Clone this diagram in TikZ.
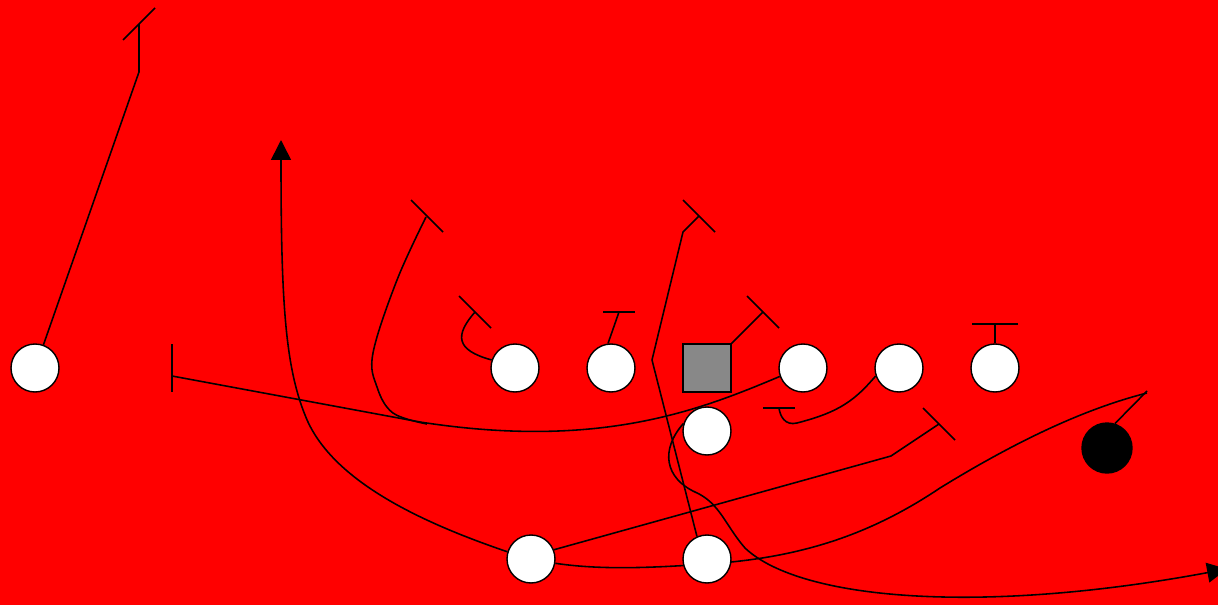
\documentclass[tikz,border=0pt]{standalone}
\usetikzlibrary{arrows.meta,backgrounds}
\definecolor{cgray}{RGB}{136,136,136}
\definecolor{field}{RGB}{255,0,0}
\begin{document}
\begin{tikzpicture}[x=0.02cm,y=-0.02cm,
  player/.style={circle,draw,fill=white,minimum size=0.96cm,inner sep=0pt,line width=0.8pt},
  centerbox/.style={rectangle,draw,fill=cgray,minimum size=0.96cm,inner sep=0pt,line width=0.8pt},
  route/.style={draw,line width=0.9pt,line join=miter},
  tip/.style={-{Triangle[width=11.3pt,length=11.3pt]}}]
\useasboundingbox (0,0) rectangle (1218,605);
% players
\node[player] (wr) at (35,368) {};
\node[player] (l1) at (515,368) {};
\node[player] (l2) at (611,368) {};
\node[centerbox] (c) at (707,368) {};
\node[player] (r1) at (803,368) {};
\node[player] (r2) at (899,368) {};
\node[player] (r3) at (995,368) {};
\node[player] (qb) at (707,431) {};
\node[player] (rbl) at (531,559) {};
\node[player] (rbr) at (707,559) {};
\node[player,fill=black,minimum size=1cm] (d) at (1107,448) {};
\begin{pgfonlayer}{background}
\clip (0,0) rectangle (1218,605);
\fill[field] (0,0) rectangle (1218,605);
% left receiver
\draw[route] (wr.70) -- (139,72) -- (139,24);
\draw[route] (123,40) -- (155,8);
% wheel route with arrow
\draw[route,tip] (rbl.163) .. controls (420,522) and (330,480) .. (305,415) .. controls (285,365) and (281,300) .. (281,140);
% swing route
\draw[route] (rbl.-10) .. controls (600,570) and (650,568) .. (707,564) .. controls (800,558) and (870,535) .. (940,488) .. controls (1010,445) and (1080,410) .. (1147,393);
% rb left angle route
\draw[route] (rbl.22) -- (891,456) -- (939,424);
\draw[route] (923,408) -- (955,440);
% rb right route
\draw[route] (rbr.114) -- (652,360) -- (683,232) -- (699,216);
\draw[route] (683,200) -- (715,232);
% qb route
\draw[route,tip] (qb.162) .. controls (660,450) and (665,478) .. (695,492) .. controls (720,503) and (725,525) .. (745,548) .. controls (800,600) and (980,615) .. (1227,569);
% long block line
\draw[route] (172,344) -- (172,392);
\draw[route] (172,376) -- (420,422) .. controls (600,450) and (700,410) .. (r1.200);
% hook route
\draw[route] plot[smooth,tension=0.6] coordinates {(427,424) (393,413) (377,387) (373,353) (397,280) (426,217)};
\draw[route] (411,200) -- (443,232);
% line blocks
\draw[route] (l1.161) .. controls (455,350) and (455,335) .. (475,312);
\draw[route] (459,296) -- (491,328);
\draw[route] (l2.97) -- (619,312);
\draw[route] (603,312) -- (635,312);
\draw[route] (c.north east) -- (763,312);
\draw[route] (747,296) -- (779,328);
\draw[route] (r2.199) .. controls (855,400) and (840,412) .. (797,423) .. controls (785,426) and (780,416) .. (779,408);
\draw[route] (763,408) -- (795,408);
\draw[route] (r3.north) -- (995,324);
\draw[route] (972,324) -- (1018,324);
\draw[route] (d.72) -- (1147,391);
\end{pgfonlayer}
\end{tikzpicture}
\end{document}
